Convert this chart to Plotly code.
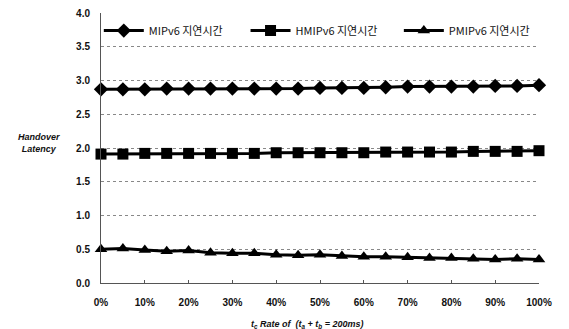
import plotly.graph_objects as go

# rate of t_c (percent), sampled every 5%
rate = list(range(0, 101, 5))

mipv6 = [2.87, 2.87, 2.87, 2.88, 2.88, 2.88, 2.88, 2.88, 2.88, 2.88, 2.89,
         2.89, 2.89, 2.90, 2.91, 2.91, 2.91, 2.91, 2.92, 2.92, 2.93]
hmipv6 = [1.91, 1.91, 1.92, 1.92, 1.92, 1.92, 1.92, 1.92, 1.93, 1.93, 1.93,
          1.93, 1.93, 1.94, 1.94, 1.94, 1.94, 1.95, 1.95, 1.95, 1.96]
pmipv6 = [0.50, 0.51, 0.49, 0.47, 0.48, 0.45, 0.44, 0.44, 0.42, 0.41, 0.42,
          0.40, 0.39, 0.39, 0.38, 0.37, 0.37, 0.36, 0.35, 0.36, 0.35]

series_names = ["MIPv6 지연시간", "HMIPv6 지연시간", "PMIPv6 지연시간"]
x_ticks = list(range(0, 101, 10))
y_ticks = [0.0, 0.5, 1.0, 1.5, 2.0, 2.5, 3.0, 3.5, 4.0]

font_main = "Liberation Sans, Arial, sans-serif"
font_kr = "Noto Sans CJK KR, sans-serif"

fig = go.Figure()
legend_ids = ["legend", "legend2", "legend3"]
for name, vals, sym, lg in zip(series_names, [mipv6, hmipv6, pmipv6],
                               ["diamond", "square", "triangle-up"], legend_ids):
    fig.add_trace(go.Scatter(
        x=rate, y=vals, name=name, mode="lines+markers",
        line=dict(color="black", width=3),
        marker=dict(symbol=sym, size=11, color="black"),
        cliponaxis=False, legend=lg,
    ))

legend_style = dict(orientation="h", yanchor="middle", xanchor="left", y=0.935,
                    bgcolor="rgba(0,0,0,0)", itemwidth=40,
                    font=dict(family=font_kr, size=11, color="#111"))

fig.update_layout(
    width=569, height=329,
    margin=dict(l=101, r=30, t=7, b=46),
    paper_bgcolor="white", plot_bgcolor="white",
    font=dict(family=font_main, color="#111", size=10),
    showlegend=True,
    legend=dict(x=-0.005, **legend_style),
    legend2=dict(x=0.33, **legend_style),
    legend3=dict(x=0.68, **legend_style),
    xaxis=dict(
        range=[0, 100], tickmode="array", tickvals=x_ticks,
        ticktext=[f"{v}%" for v in x_ticks],
        tickfont=dict(family=font_main, size=10, color="#111", weight="bold"),
        showgrid=False, zeroline=False,
        showline=True, linecolor="#555", linewidth=1,
        ticks="inside", ticklen=3, tickcolor="#555",
        ticklabelstandoff=10,
    ),
    yaxis=dict(
        range=[0, 4], tickmode="array", tickvals=y_ticks,
        ticktext=[f"{v:.1f}" for v in y_ticks],
        tickfont=dict(family=font_main, size=10, color="#111", weight="bold"),
        showgrid=True, gridcolor="#888", griddash="dot", gridwidth=1,
        zeroline=False, showline=True, linecolor="#555", linewidth=1,
        ticks="", ticklabelstandoff=8,
    ),
)

fig.add_annotation(
    text="<b><i>Handover<br>Latency</i></b>", xref="paper", yref="paper",
    x=-0.088, y=0.52, xanchor="right", yanchor="middle", showarrow=False,
    font=dict(family=font_main, size=9, color="#111"), align="center",
)

fig.add_annotation(
    text="<b><i>t<sub>c</sub> Rate of  (t<sub>a</sub> + t<sub>b</sub> = 200ms)</i></b>",
    xref="paper", yref="paper", x=0.47, y=-0.125, xanchor="center", yanchor="top",
    showarrow=False, font=dict(family=font_main, size=9, color="#111"),
)

fig.write_html("out.html")
